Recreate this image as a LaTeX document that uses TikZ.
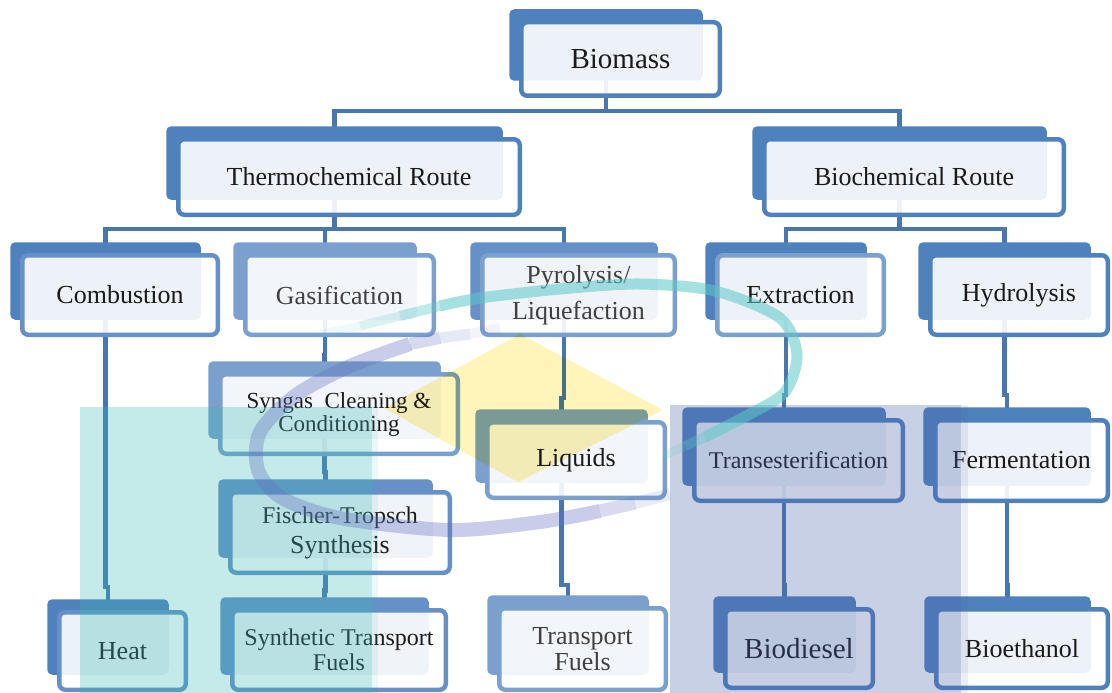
\documentclass[tikz,border=0pt]{standalone}
\usepackage{fontspec}
\setmainfont{Liberation Serif}
\usetikzlibrary{calc}

\pgfdeclarelayer{lines}
\pgfdeclarelayer{backs}
\pgfdeclarelayer{tint}
\pgfsetlayers{lines,backs,main,tint}

\definecolor{blueA}{HTML}{4F81BD}
\definecolor{blueB}{HTML}{7BA0CD}
\definecolor{blueM}{HTML}{6690C8}
\definecolor{linec}{HTML}{4A76AE}
\definecolor{txt}{HTML}{1A1A1A}
\definecolor{txtg}{HTML}{404040}
\definecolor{tealtint}{HTML}{3CB8B5}
\definecolor{lavtint}{HTML}{4A62A8}
\definecolor{yeltint}{HTML}{FFF5BA}
\definecolor{ribteal}{HTML}{5CC8C8}
\definecolor{riblav}{HTML}{6470C0}

\tikzset{
  card/.style={draw=#1, line width=4.5pt, rounded corners=6pt, outer sep=0pt,
    fill=white, fill opacity=0.9, text opacity=1, text=txt, align=center,
    inner sep=0pt, font=\fontsize{26}{30}\selectfont},
  card/.default=blueA,
  conn/.style={draw=linec, line width=4.5pt},
  ribbon/.style={line width=#1, line cap=butt, line join=round},
}

% solid block set behind a card, shifted up and to the left
\newcommand\backcard[2]{%
  \begin{pgfonlayer}{backs}
    \fill[#2, rounded corners=5pt] ($(#1.north west)+(-12,-13)$) rectangle ($(#1.south east)+(-17,-15)$);
  \end{pgfonlayer}}

\begin{document}
\begin{tikzpicture}[x=1pt,y=-1pt]
\useasboundingbox (0,0) rectangle (1112,693);

% ---- cards ----
\node[card, minimum width=198.5pt, minimum height=73.5pt, font=\fontsize{29}{32}\selectfont] (bio) at (620.5,59) {Biomass};
\node[card, minimum width=341.5pt, minimum height=75.5pt] (thermo) at (349,177) {Thermochemical Route};
\node[card, minimum width=299.5pt, minimum height=75.5pt] (biochem) at (914,177) {Biochemical Route};

\node[card=blueM, minimum width=195.5pt, minimum height=79.5pt] (comb) at (120,295) {Combustion};
\node[card=blueB, minimum width=188.5pt, minimum height=79.5pt, text=txtg] (gas) at (339.5,295) {Gasification};
\node[card=blueB, minimum width=192.5pt, minimum height=79.5pt, text=txtg, font=\fontsize{26}{36}\selectfont] (pyro) at (578.5,295) {Pyrolysis/\\Liquefaction};
\node[card=blueB, minimum width=166.5pt, minimum height=79.5pt] (ext) at (800.5,295) {Extraction};
\node[card, minimum width=177.5pt, minimum height=79.5pt] (hyd) at (1019,295) {Hydrolysis};

\node[card=blueB, minimum width=237.5pt, minimum height=79.5pt, font=\fontsize{23}{23}\selectfont] (syn) at (339,414) {Syngas~~Cleaning \&\\Conditioning};
\node[card=blueB, minimum width=177.5pt, minimum height=75.5pt] (liq) at (576,460) {Liquids};
\node[card, minimum width=208.5pt, minimum height=80.5pt, font=\fontsize{24}{26}\selectfont] (trans) at (798.5,460.5) {Transesterification};
\node[card, minimum width=172.5pt, minimum height=80.5pt] (ferm) at (1021.5,460.5) {Fermentation};

\node[card=blueM, minimum width=219.5pt, minimum height=80.5pt] (ft) at (340,532.5)
  {\fontsize{24}{27}\selectfont Fischer-Tropsch\\\fontsize{26}{27}\selectfont Synthesis};

\node[card=blueM, minimum width=126.5pt, minimum height=77.5pt] (heat) at (122.5,651) {Heat};
\node[card=blueM, minimum width=213.5pt, minimum height=79.5pt, font=\fontsize{24}{25}\selectfont] (synth) at (339,650) {Synthetic Transport\\Fuels};
\node[card=blueB, minimum width=166.5pt, minimum height=81.5pt, text=txtg, font=\fontsize{26}{26}\selectfont] (tf) at (582.5,649) {Transport\\Fuels};
\node[card, minimum width=147.5pt, minimum height=78.5pt, font=\fontsize{29}{32}\selectfont] (biod) at (799,648.5) {Biodiesel};
\node[card, minimum width=171.5pt, minimum height=78.5pt] (bioe) at (1022,648.5) {Bioethanol};

% ---- blocks behind the cards ----
\backcard{bio}{blueA}
\backcard{thermo}{blueA}
\backcard{biochem}{blueA}
\backcard{comb}{blueA}
\backcard{gas}{blueB}
\backcard{pyro}{blueM}
\backcard{ext}{blueA}
\backcard{hyd}{blueA}
\backcard{syn}{blueB}
\backcard{liq}{blueB}
\backcard{trans}{blueA}
\backcard{ferm}{blueA}
\backcard{ft}{blueM}
\backcard{heat}{blueA}
\backcard{synth}{blueM}
\backcard{tf}{blueB}
\backcard{biod}{blueA}
\backcard{bioe}{blueA}

% ---- connectors, run through the centres of the back blocks ----
\foreach \n in {bio,thermo,biochem,comb,gas,pyro,ext,hyd,syn,liq,trans,ferm,ft,heat,synth,tf,biod,bioe}
  \coordinate (\n-c) at ($(\n.center)+(-14.5,0)$);
\coordinate (busA) at (0,111);
\coordinate (busB) at (0,229);

\begin{pgfonlayer}{lines}
  \draw[conn] (bio-c) -- (bio-c |- busA);
  \draw[conn] (thermo-c) |- (biochem-c |- busA) -- (biochem-c);
  \draw[conn] (thermo-c) -- (thermo-c |- busB);
  \draw[conn] (comb-c) |- (pyro-c |- busB) -- (pyro-c);
  \draw[conn] (gas-c) -- (gas-c |- busB);
  \draw[conn] (biochem-c) -- (biochem-c |- busB);
  \draw[conn] (ext-c) |- (hyd-c |- busB) -- (hyd-c);

  \draw[conn] (comb-c) -- ++(0,292) -| (heat-c);
  \draw[conn] (gas-c) -- ++(0,60) -| (syn-c);
  \draw[conn] (syn-c) -- ++(0,58) -| (ft-c);
  \draw[conn] (ft-c) -- ++(0,58) -| (synth-c);
  \draw[conn] (pyro-c) -- ++(0,103) -| (liq-c);
  \draw[conn] (liq-c) -- ++(0,125) -| (tf-c);
  \draw[conn] (ext-c) -- ++(0,100) -| (trans-c);
  \draw[conn] (hyd-c) -- ++(0,100) -| (ferm-c);
  \draw[conn] (trans-c) -- ++(0,125) -| (biod-c);
  \draw[conn] (ferm-c) -- ++(0,125) -| (bioe-c);
\end{pgfonlayer}

% ---- translucent panels and ribbons laid over the chart ----
\begin{pgfonlayer}{tint}
  \fill[tealtint, opacity=0.3] (80,407) rectangle (372,693);
  \fill[tealtint, opacity=0.1] (372,407) rectangle (378,693);
  \fill[lavtint, opacity=0.3] (670,405) rectangle (961,693);
  \fill[lavtint, opacity=0.1] (961,405) rectangle (968,693);
  \begin{scope}[blend mode=multiply]
    \fill[yeltint] (520,334) -- (663,410) -- (518,482) -- (384,408) -- cycle;
  \end{scope}
  % teal ribbon, fading in at its tail and out at its head
  \draw[ribteal, ribbon=8pt, opacity=0.1] (320,334) -- (360,326);
  \draw[ribteal, ribbon=9pt, opacity=0.22] (360,326) -- (400,316);
  \draw[ribteal, ribbon=10pt, opacity=0.38] (400,316) -- (440,306);
  \draw[ribteal, ribbon=11pt, opacity=0.55] plot[smooth] coordinates
    {(440,306) (480,298) (560,289) (640,284) (715,291) (780,318) (797,355) (785,392) (750,414) (705,437)};
  \draw[ribteal, ribbon=10pt, opacity=0.35] (705,437) -- (685,446);
  \draw[ribteal, ribbon=9pt, opacity=0.18] (685,446) -- (665,455);
  % lavender ribbon
  \draw[riblav, ribbon=10pt, opacity=0.08] (500,328) -- (470,334);
  \draw[riblav, ribbon=11pt, opacity=0.16] (470,334) -- (440,338);
  \draw[riblav, ribbon=12pt, opacity=0.26] (440,338) -- (410,344);
  \draw[riblav, ribbon=14pt, opacity=0.35] plot[smooth] coordinates
    {(410,344) (350,366) (296,395) (260,432) (258,470) (282,498) (340,518) (450,530) (540,522) (600,511)};
  \draw[riblav, ribbon=13pt, opacity=0.25] (600,511) -- (635,503);
  \draw[riblav, ribbon=12pt, opacity=0.14] (635,503) -- (670,494);
\end{pgfonlayer}
\end{tikzpicture}
\end{document}
